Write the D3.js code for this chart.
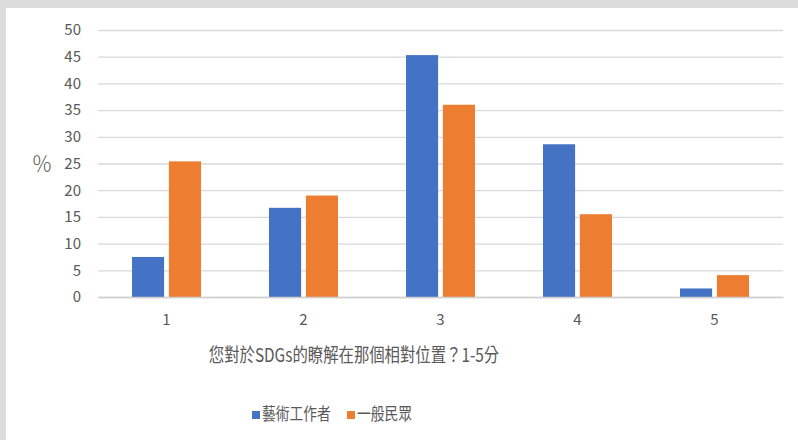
<!DOCTYPE html>
<html>
<head>
<meta charset="utf-8">
<script src="https://cdn.jsdelivr.net/npm/d3@7"></script>
<style>
  body { margin: 0; background: #dcdcdc; }
  #chart { position: absolute; left: 6px; top: 8px; width: 792px; height: 432px; background: #fff; }
  text { font-family: "Noto Sans CJK TC", "Noto Sans", sans-serif; fill: #595959; }
</style>
</head>
<body>
<div id="chart"></div>
<script>
const categories = ["1", "2", "3", "4", "5"];
const seriesNames = ["藝術工作者", "一般民眾"];
const artists = [7.5, 16.7, 45.3, 28.6, 1.6];
const publicVals = [25.4, 19.0, 36.0, 15.5, 4.1];
const yTicks = [0, 5, 10, 15, 20, 25, 30, 35, 40, 45, 50];
const colors = ["#4472c4", "#ed7d31"];

const width = 798, height = 440;
const margin = { top: 30, right: 15, bottom: 143, left: 98 };
const squeeze = 0.81; // the reference text looks narrowed

const svg = d3.select("body").append("svg")
    .attr("width", width)
    .attr("height", height)
    .style("position", "absolute")
    .style("left", 0)
    .style("top", 0);

const x = d3.scaleBand()
    .domain(categories)
    .range([margin.left, width - margin.right]);

const xz = d3.scaleBand()
    .domain(seriesNames)
    .range([x.bandwidth() / 2 - 34.5, x.bandwidth() / 2 + 34.5])
    .paddingInner(0.13);

const y = d3.scaleLinear()
    .domain([0, 50])
    .range([height - margin.bottom, margin.top]);

// grid
svg.append("g")
    .attr("transform", `translate(${margin.left},0)`)
    .call(d3.axisLeft(y).tickValues(yTicks).tickSize(-(width - margin.left - margin.right)).tickPadding(17))
    .call(g => g.select(".domain").remove())
    .call(g => g.selectAll(".tick line").attr("stroke", "#d9d9d9").attr("stroke-width", 1.3))
    .call(g => g.selectAll(".tick text").attr("font-size", 15).attr("fill", "#595959"));

const data = categories.map((c, i) => ({ cat: c, vals: [artists[i], publicVals[i]] }));

svg.append("g")
    .selectAll("g")
    .data(data)
    .join("g")
    .attr("transform", d => `translate(${x(d.cat)},0)`)
    .selectAll("rect")
    .data(d => d.vals.map((v, j) => ({ name: seriesNames[j], v, j })))
    .join("rect")
    .attr("x", d => xz(d.name))
    .attr("y", d => y(d.v))
    .attr("width", xz.bandwidth())
    .attr("height", d => y(0) - y(d.v))
    .attr("fill", d => colors[d.j]);

// x axis
svg.append("g")
    .attr("transform", `translate(0,${y(0)})`)
    .call(d3.axisBottom(x).tickSize(0).tickPadding(17))
    .call(g => g.select(".domain").attr("stroke", "#d0d0d0").attr("stroke-width", 1.3))
    .call(g => g.selectAll(".tick text").attr("font-size", 15).attr("fill", "#595959"));

svg.append("text")
    .attr("transform", "translate(42,165)")
    .attr("text-anchor", "middle")
    .attr("dominant-baseline", "middle")
    .attr("font-size", 21)
    .attr("font-weight", 300)
    .text("％");

svg.append("text")
    .attr("transform", `translate(354,357) scale(${squeeze},1)`)
    .attr("text-anchor", "middle")
    .attr("dominant-baseline", "middle")
    .attr("font-size", 19)
    .text("您對於SDGs的瞭解在那個相對位置？1-5分");

// legend
const legendX = [252, 347];
const legend = svg.append("g")
    .selectAll("g")
    .data(seriesNames)
    .join("g")
    .attr("transform", (d, i) => `translate(${legendX[i]},415)`);
legend.append("rect")
    .attr("x", 0).attr("y", -4)
    .attr("width", 8).attr("height", 8)
    .attr("fill", (d, i) => colors[i]);
legend.append("text")
    .attr("transform", `translate(10,0) scale(${squeeze},1)`)
    .attr("dominant-baseline", "middle")
    .attr("font-size", 17)
    .text(d => d);
</script>
</body>
</html>
